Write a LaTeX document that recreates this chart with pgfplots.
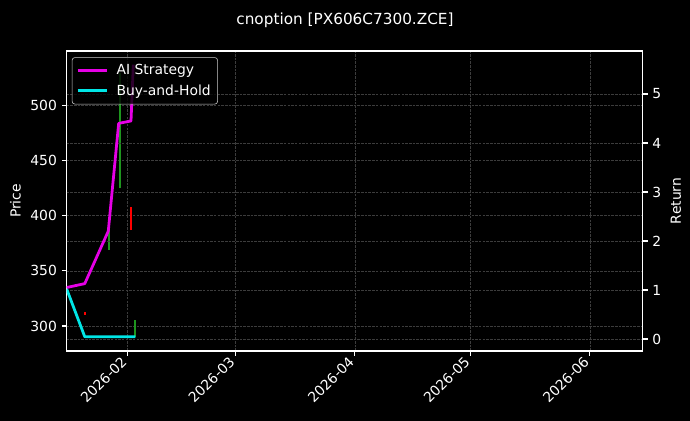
\documentclass[border=0pt]{standalone}
\usepackage{fontspec}
\setmainfont{DejaVu Sans}
\usepackage{pgfplots}
\pgfplotsset{compat=1.18}

\definecolor{aimag}{HTML}{E600E6}
\definecolor{bhcyan}{HTML}{00E6E6}
\definecolor{upgreen}{HTML}{1E961E}
\definecolor{dnred}{HTML}{FF0000}
\definecolor{gridc}{HTML}{3C3C3C}
\definecolor{legframe}{HTML}{CCCCCC}

\pgfplotsset{
  darkax/.style={
    scale only axis, width=414.7pt, height=216pt,
    at={(0,0)}, anchor=south west,
    xmin=15.2, xmax=164.7,
    axis line style={white, line width=0.8pt},
    tick style={white, line width=0.8pt},
    tick align=outside, major tick length=3.5pt,
    tick label style={white, font=\fontsize{10}{12}\selectfont},
    label style={white, font=\fontsize{10}{12}\selectfont},
    /pgf/number format/assume math mode=true,
    grid style={gridc, line width=0.5pt, dash pattern=on 1.85pt off 0.8pt},
  }
}

\begin{document}
\begin{tikzpicture}
  \fill[black] (-48pt,-50.4pt) rectangle (448.8pt,252.7pt);
  \useasboundingbox (-48pt,-50.4pt) rectangle (448.8pt,252.7pt);
  \node[white, font=\fontsize{11}{13}\selectfont] at (200.4pt,238.3pt) {cnoption [PX606C7300.ZCE]};

  % price axis (candles)
  \begin{axis}[darkax,
    ymin=277.3, ymax=549.7,
    ytick={300,350,400,450,500},
    xtick={31,59,90,120,151},
    xticklabels={2026-02,2026-03,2026-04,2026-05,2026-06},
    xticklabel style={rotate=45, anchor=east},
    xtick pos=lower, ytick pos=left,
    grid=major,
    ylabel={Price},
  ]
    \addplot[dnred, line width=1.6pt, forget plot] coordinates {(19.9,310) (19.9,313)};
    \addplot[upgreen, line width=1.6pt, forget plot] coordinates {(26.1,369) (26.1,387)};
    \addplot[upgreen, line width=1.6pt, forget plot] coordinates {(29.1,425) (29.1,530)};
    \addplot[dnred, line width=1.6pt, forget plot] coordinates {(31.9,387) (31.9,408)};
    \addplot[upgreen, line width=1.6pt, forget plot] coordinates {(32.85,290.3) (32.85,305.5)};
  \end{axis}

  % return axis (strategy lines)
  \begin{axis}[darkax,
    ymin=-0.245, ymax=5.878,
    axis x line=none, axis y line*=right,
    ytick={0,1,2,3,4,5},
    ymajorgrids,
    ylabel={Return},
    legend style={at={(0.009,0.979)}, anchor=north west,
      fill=black, fill opacity=0.8, text opacity=1, draw=legframe,
      rounded corners=2pt, text=white, font=\fontsize{10}{12}\selectfont,
      row sep=1.5pt, inner ysep=3pt,
      /tikz/every odd column/.append style={column sep=4pt}},
    legend cell align=left,
    legend image code/.code={\draw[#1] (0pt,0pt) -- (21pt,0pt);},
  ]
    \addplot[aimag, line width=2pt, line join=round] coordinates {
      (15.2,1.05) (19.9,1.13) (26.0,2.20) (28.7,4.40) (31.9,4.45) (32.5,5.60)
    };
    \addlegendentry{AI Strategy}
    \addplot[bhcyan, line width=2pt, line join=round] coordinates {
      (15.2,1.02) (19.9,0.045) (33.05,0.045)
    };
    \addlegendentry{Buy-and-Hold}
  \end{axis}
\end{tikzpicture}
\end{document}
